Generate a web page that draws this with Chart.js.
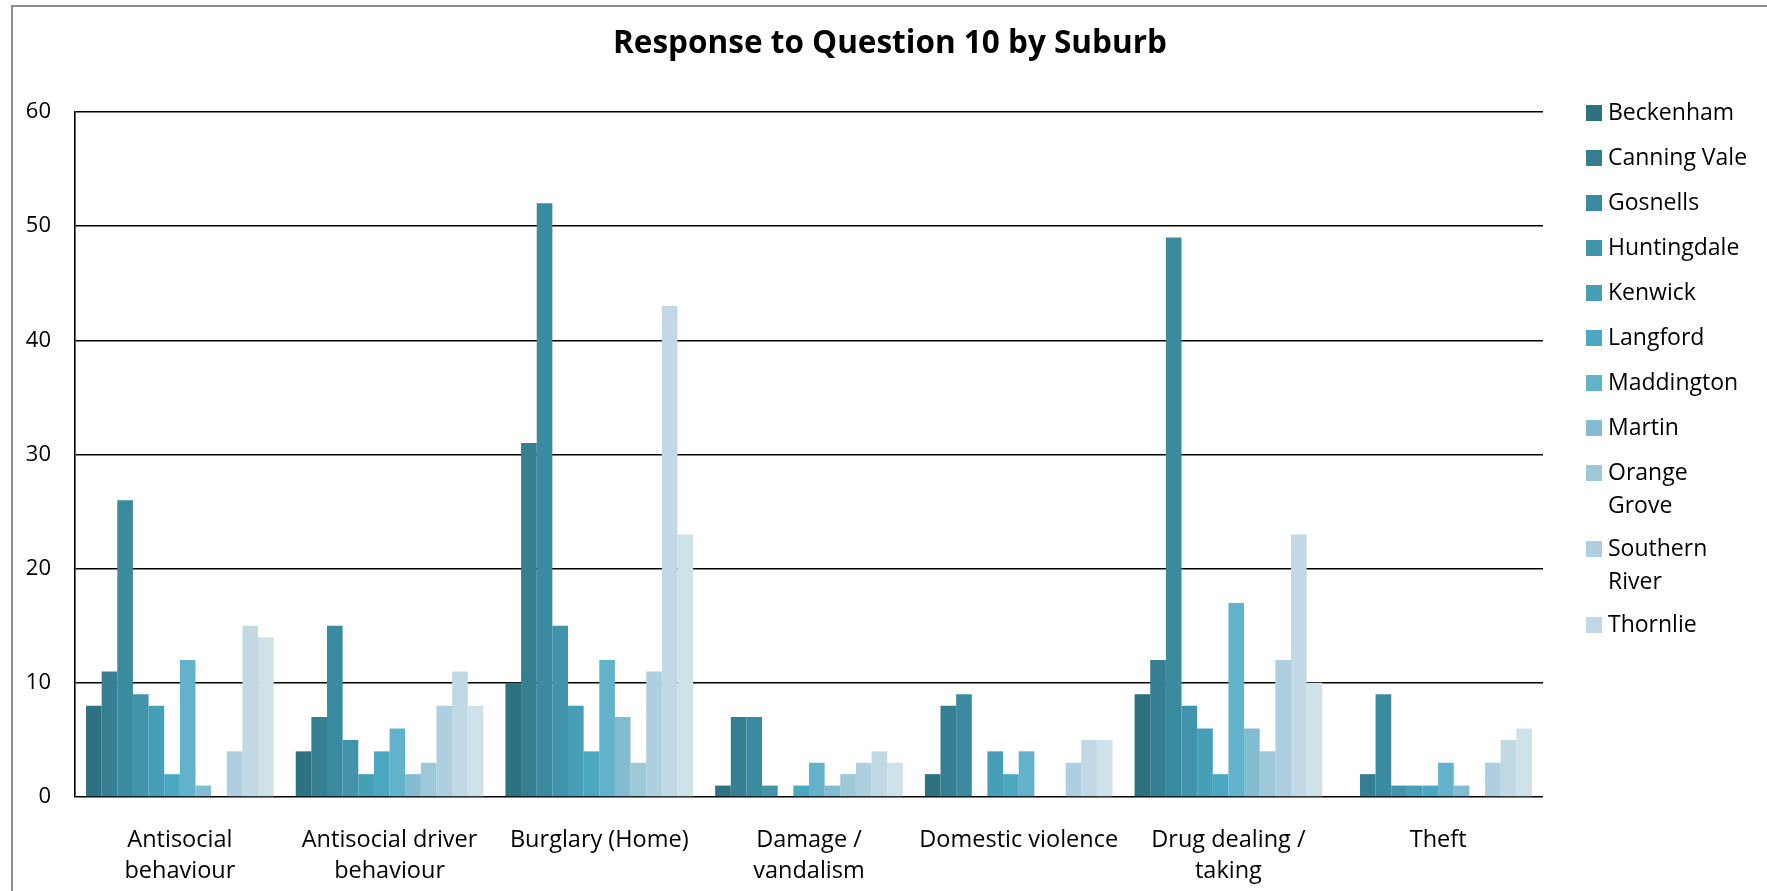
<!DOCTYPE html>
<html>
<head>
<meta charset="utf-8">
<script src="https://cdn.jsdelivr.net/npm/chart.js@4/dist/chart.umd.min.js"></script>
<style>
  html, body { margin: 0; padding: 0; background: #fff; overflow: hidden; }
  #frame { position: absolute; left: 11px; top: 5px; width: 1800px; height: 950px; border: 2px solid #8c8c8c; }
  #wrap { position: absolute; left: 0; top: 0; width: 1767px; height: 891px; }
</style>
</head>
<body>
<div id="frame"></div>
<div id="wrap"><canvas id="chart"></canvas></div>
<script>
// Categories (x axis) and tick labels
const categories = [
    ['Antisocial', 'behaviour'],
    ['Antisocial driver', 'behaviour'],
    'Burglary (Home)',
    ['Damage /', 'vandalism'],
    'Domestic violence',
    ['Drug dealing /', 'taking'],
    'Theft'
];
const yTicks = [0, 10, 20, 30, 40, 50, 60];

// One series per suburb
const beckenham     = [8, 4, 10, 1, 2, 9, 0];
const canningVale   = [11, 7, 31, 7, 8, 12, 2];
const gosnells      = [26, 15, 52, 7, 9, 49, 9];
const huntingdale   = [9, 5, 15, 1, 0, 8, 1];
const kenwick       = [8, 2, 8, 0, 4, 6, 1];
const langford      = [2, 4, 4, 1, 2, 2, 1];
const maddington    = [12, 6, 12, 3, 4, 17, 3];
const martin        = [1, 2, 7, 1, 0, 6, 1];
const orangeGrove   = [0, 3, 3, 2, 0, 4, 0];
const southernRiver = [4, 8, 11, 3, 3, 12, 3];
const thornlie      = [15, 11, 43, 4, 5, 23, 5];
const unlabelled    = [14, 8, 23, 3, 5, 10, 6];   // 12th series, not shown in legend

const suburbs = ['Beckenham', 'Canning Vale', 'Gosnells', 'Huntingdale', 'Kenwick', 'Langford',
                 'Maddington', 'Martin', 'Orange Grove', 'Southern River', 'Thornlie', ''];
const series = [beckenham, canningVale, gosnells, huntingdale, kenwick, langford,
                maddington, martin, orangeGrove, southernRiver, thornlie, unlabelled];
const colors = ['#2e7181', '#367e91', '#3a8ba0', '#4194ab', '#469fb6', '#4aa8c2',
                '#63b2cb', '#83bcd0', '#9cc8d8', '#aecfdf', '#c0d9e4', '#cfe1e9'];
const legendLines = {
    'Orange Grove': ['Orange', 'Grove'],
    'Southern River': ['Southern', 'River']
};

const FONT = '"Open Sans", sans-serif';
const W = 1767, H = 891;
const plotLeft = 75, plotRight = 1543, plotTop = 112, plotBottom = 797;

// Title + legend drawn by hand so they sit where the original puts them
const titleAndLegend = {
    id: 'titleAndLegend',
    afterDraw(chart) {
        const ctx = chart.ctx;
        ctx.save();
        ctx.fillStyle = '#000';
        ctx.font = 'bold 31.5px ' + FONT;
        ctx.textAlign = 'center';
        ctx.textBaseline = 'middle';
        ctx.fillText('Response to Question 10 by Suburb', 890, 44);

        ctx.font = '23px ' + FONT;
        ctx.textAlign = 'left';
        let y = 113;
        chart.data.datasets.forEach(ds => {
            if (!ds.label) return;
            const lines = legendLines[ds.label] || [ds.label];
            ctx.fillStyle = ds.backgroundColor;
            ctx.fillRect(1586, y - 8, 16, 16);
            ctx.fillStyle = '#000';
            lines.forEach((line, i) => ctx.fillText(line, 1608, y + i * 33));
            y += 45 + (lines.length - 1) * 31;
        });
        ctx.restore();
    }
};

const ctx = document.getElementById('chart');
new Chart(ctx, {
    type: 'bar',
    data: {
        labels: categories,
        datasets: series.map((data, i) => ({
            label: suburbs[i],
            data: data,
            backgroundColor: colors[i],
            borderWidth: 0,
            categoryPercentage: 0.895,
            barPercentage: 1.0
        }))
    },
    options: {
        responsive: true,
        maintainAspectRatio: false,
        animation: false,
        layout: {
            padding: { left: 0, top: plotTop, right: W - plotRight, bottom: 0 }
        },
        plugins: {
            legend: { display: false },
            title: { display: false },
            tooltip: { enabled: false }
        },
        scales: {
            x: {
                grid: { display: false, drawTicks: false },
                border: { display: false },
                ticks: {
                    color: '#000',
                    font: { family: FONT, size: 23.5, lineHeight: 1.35 },
                    padding: 27,
                    maxRotation: 0,
                    autoSkip: false
                },
                afterFit: scale => { scale.height = H - plotBottom; }
            },
            y: {
                min: 0,
                max: 60,
                afterBuildTicks: scale => { scale.ticks = yTicks.map(v => ({ value: v })); },
                grid: { color: '#000', lineWidth: 1.6, drawTicks: false },
                border: { display: true, color: '#000', width: 1.6 },
                ticks: {
                    color: '#000',
                    font: { family: FONT, size: 22 },
                    padding: 24
                },
                afterFit: scale => { scale.width = plotLeft; }
            }
        }
    },
    plugins: [titleAndLegend]
});
</script>
</body>
</html>
